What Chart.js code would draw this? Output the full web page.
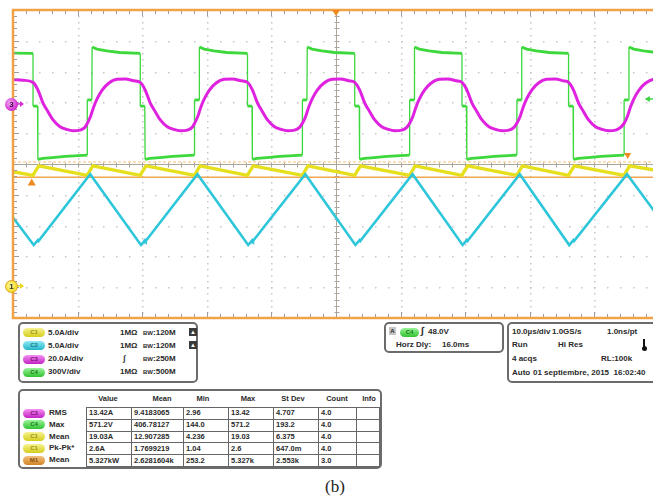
<!DOCTYPE html>
<html lang="es">
<head>
<meta charset="UTF-8">
<title>Osciloscopio (b)</title>
<script src="https://cdn.jsdelivr.net/npm/chart.js"></script>
<style>
  body { margin: 0; width: 653px; height: 498px; overflow: hidden; background: #fff; position: relative;
         font-family: 'Liberation Sans', Arial, sans-serif; }
  #scope { position: absolute; left: 0; top: 0; }
  .mark { position: absolute; width: 13px; height: 13px; border-radius: 50%; box-sizing: border-box;
          font: bold 8px/13px 'Liberation Sans', Arial, sans-serif; text-align: center; }
  .box { position: absolute; border: 2px solid #6c6c6c; border-radius: 5px; box-sizing: border-box; background: #fff;
         font: bold 8px 'Liberation Sans', Arial, sans-serif; color: #2a2a2a; }
  .t { position: absolute; white-space: nowrap; line-height: 10px; }
  .pill { position: absolute; width: 22px; height: 9px; border-radius: 5px; text-align: center;
          font: bold 6px/9px 'Liberation Sans', Arial, sans-serif; }
  .c1 { background: linear-gradient(#f6f290, #d6ce1c); color: #9a9410; }
  .c2 { background: linear-gradient(#90ecf6, #22b4c8); color: #167c8c; }
  .c3 { background: linear-gradient(#f690f6, #c222c2); color: #7c107c; }
  .c4 { background: linear-gradient(#98f498, #32c232); color: #177c17; }
  .m1 { background: linear-gradient(#f4c080, #d08424); color: #84500e; }
  .sub { font-size: 6px; }
  .icon { position: absolute; width: 8px; height: 8px; background: #3a3a3a; color: #fff; font-size: 6px;
          line-height: 9px; text-align: center; }
  .therm { position: absolute; width: 2px; height: 8px; background: #111; }
  .therm::after { content: ''; position: absolute; left: -1.5px; top: 7px; width: 5px; height: 5px; border-radius: 50%; background: #111; }
  table { position: absolute; border-collapse: collapse; table-layout: fixed; }
  td { border: 1px solid #666; height: 10.8px; padding: 0 0 0 2px; font: bold 7.5px/10px 'Liberation Sans', Arial, sans-serif;
       color: #2a2a2a; white-space: nowrap; overflow: hidden; }
  .hd { position: absolute; width: 40px; text-align: center; font-size: 7.5px; line-height: 10px; }
  #cap { position: absolute; left: 325px; top: 477px; font: 17px 'Liberation Serif', 'DejaVu Serif', serif; color: #222; }
</style>
</head>
<body>
<canvas id="scope" width="672" height="322"></canvas>

<div class="mark" style="left:5px;top:98px;background:radial-gradient(circle at 40% 40%,#f6b4f6,#d636d6 60%,#b418b4);color:#4a004a;">3</div>
<div class="mark" style="left:5px;top:280px;background:radial-gradient(circle at 40% 40%,#fff8a0,#f0e030 65%);border:1px solid #e0a020;color:#333;line-height:11px;">1</div>

<div class="box" style="left:18px;top:322px;width:180px;height:61px;">
  <div class="pill c1" style="left:3px;top:4px;">C1</div>
  <div class="t" style="left:28px;top:4px;">5.0A/div</div>
  <div class="t" style="left:100px;top:4px;">1MΩ</div>
  <div class="t" style="left:123px;top:4px;"><span class="sub">B</span><span class="sub">W</span>:120M</div>
  <div class="icon" style="left:169px;top:4px;">▲</div>

  <div class="pill c2" style="left:3px;top:17px;">C2</div>
  <div class="t" style="left:28px;top:16.5px;">5.0A/div</div>
  <div class="t" style="left:100px;top:16.5px;">1MΩ</div>
  <div class="t" style="left:123px;top:16.5px;"><span class="sub">B</span><span class="sub">W</span>:120M</div>
  <div class="icon" style="left:169px;top:17px;">▲</div>

  <div class="pill c3" style="left:3px;top:30.5px;">C3</div>
  <div class="t" style="left:28px;top:30px;">20.0A/div</div>
  <div class="t" style="left:103px;top:30px;">∫</div>
  <div class="t" style="left:123px;top:30px;"><span class="sub">B</span><span class="sub">W</span>:250M</div>

  <div class="pill c4" style="left:3px;top:43.5px;">C4</div>
  <div class="t" style="left:28px;top:43px;">300V/div</div>
  <div class="t" style="left:100px;top:43px;">1MΩ</div>
  <div class="t" style="left:123px;top:43px;"><span class="sub">B</span><span class="sub">W</span>:500M</div>
</div>

<div class="box" style="left:384px;top:322px;width:120px;height:31px;">
  <div class="t" style="left:3px;top:3px;width:7px;height:8px;background:#c4c4c4;font-size:6px;line-height:8px;text-align:center;">A</div>
  <div class="pill c4" style="left:14px;top:3.5px;width:19px;">C4</div>
  <div class="t" style="left:35px;top:2px;font-size:10px;font-style:italic;">∫</div>
  <div class="t" style="left:42px;top:3px;">48.0V</div>
  <div class="t" style="left:10px;top:16px;">Horz Dly:</div>
  <div class="t" style="left:56px;top:16px;">16.0ms</div>
</div>

<div class="box" style="left:507px;top:322px;width:165px;height:61px;">
  <div class="t" style="left:3px;top:3px;">10.0µs/div</div>
  <div class="t" style="left:43px;top:3px;">1.0GS/s</div>
  <div class="t" style="left:98px;top:3px;">1.0ns/pt</div>
  <div class="t" style="left:3px;top:16px;">Run</div>
  <div class="t" style="left:49px;top:16px;">Hi Res</div>
  <div class="therm" style="left:134px;top:15px;"></div>
  <div class="t" style="left:3px;top:30px;">4 acqs</div>
  <div class="t" style="left:92px;top:30px;">RL:100k</div>
  <div class="t" style="left:3px;top:43.5px;">Auto</div>
  <div class="t" style="left:24px;top:43.5px;">01 septiembre, 2015&nbsp; 16:02:40</div>
</div>

<div class="box" style="left:18px;top:389px;width:364px;height:80px;">
  <div class="hd" style="left:68px;top:3px;">Value</div>
  <div class="hd" style="left:122px;top:3px;">Mean</div>
  <div class="hd" style="left:163px;top:3px;">Min</div>
  <div class="hd" style="left:208px;top:3px;">Max</div>
  <div class="hd" style="left:253px;top:3px;">St Dev</div>
  <div class="hd" style="left:297px;top:3px;">Count</div>
  <div class="hd" style="left:329px;top:3px;">Info</div>

  <div class="pill c3" style="left:3px;top:17.5px;">C3</div>
  <div class="t" style="left:29px;top:17px;">RMS</div>
  <div class="pill c4" style="left:3px;top:29.3px;">C4</div>
  <div class="t" style="left:29px;top:28.8px;">Max</div>
  <div class="pill c1" style="left:3px;top:41px;">C1</div>
  <div class="t" style="left:29px;top:40.5px;">Mean</div>
  <div class="pill c1" style="left:3px;top:52.8px;">C1</div>
  <div class="t" style="left:29px;top:52.3px;">Pk-Pk*</div>
  <div class="pill m1" style="left:3px;top:64.5px;">M1</div>
  <div class="t" style="left:29px;top:64px;">Mean</div>

  <table style="left:66px;top:16px;width:293px;">
    <colgroup><col style="width:45px"><col style="width:52px"><col style="width:45px"><col style="width:45px"><col style="width:45px"><col style="width:38px"><col style="width:23px"></colgroup>
    <tr><td>13.42A</td><td>9.4183065</td><td>2.96</td><td>13.42</td><td>4.707</td><td>4.0</td><td></td></tr>
    <tr><td>571.2V</td><td>406.78127</td><td>144.0</td><td>571.2</td><td>193.2</td><td>4.0</td><td></td></tr>
    <tr><td>19.03A</td><td>12.907285</td><td>4.236</td><td>19.03</td><td>6.375</td><td>4.0</td><td></td></tr>
    <tr><td>2.6A</td><td>1.7699219</td><td>1.04</td><td>2.6</td><td>647.0m</td><td>4.0</td><td></td></tr>
    <tr><td>5.327kW</td><td>2.6281604k</td><td>253.2</td><td>5.327k</td><td>2.553k</td><td>3.0</td><td></td></tr>
  </table>
</div>

<div id="cap">(b)</div>

<script>
  // time in µs (10 µs/div), level in screen divisions (centre = 0)
  const greenTime = [
    0, 3.1, 3.1, 3.8, 3.85, 4.6, 6.1, 8.1, 11.5, 11.5, 12.2, 12.25, 13.0, 14.5, 16.5,
    19.7, 19.7, 20.4, 20.45, 21.2, 22.7, 24.7, 28.1, 28.1, 28.8, 28.85, 29.6, 31.1, 33.1,
    36.3, 36.3, 37.0, 37.05, 37.8, 39.3, 41.3, 44.8, 44.8, 45.5, 45.55, 46.3, 47.8, 49.8,
    52.9, 52.9, 53.6, 53.65, 54.4, 55.9, 57.9, 61.4, 61.4, 62.1, 62.15, 62.9, 64.4, 66.4,
    69.5, 69.5, 70.2, 70.25, 71.0, 72.5, 74.5, 78.0, 78.0, 78.7, 78.75, 79.5, 81.0, 83.0,
    86.0, 86.0, 86.7, 86.75, 87.5, 89.0, 91.0, 94.6, 94.6, 95.3, 95.35, 96.1, 97.6, 99.6, 100
  ];
  const greenLevel = [
    3.60, 3.59, 1.88, 1.88, 0.15, 0.18, 0.21, 0.25, 0.29, 2.08, 2.08, 3.80, 3.73, 3.67, 3.62,
    3.59, 1.88, 1.88, 0.15, 0.18, 0.21, 0.25, 0.29, 2.08, 2.08, 3.80, 3.73, 3.67, 3.62,
    3.59, 1.88, 1.88, 0.15, 0.18, 0.21, 0.25, 0.29, 2.08, 2.08, 3.80, 3.73, 3.67, 3.62,
    3.59, 1.88, 1.88, 0.15, 0.18, 0.21, 0.25, 0.29, 2.08, 2.08, 3.80, 3.73, 3.67, 3.62,
    3.59, 1.88, 1.88, 0.15, 0.18, 0.21, 0.25, 0.29, 2.08, 2.08, 3.80, 3.73, 3.67, 3.62,
    3.59, 1.88, 1.88, 0.15, 0.18, 0.21, 0.25, 0.29, 2.08, 2.08, 3.80, 3.73, 3.67, 3.62, 3.62
  ];

  const magentaTime = [
    0, 1.5,
    3.1, 3.87, 4.65, 5.42, 6.2, 7.28, 8.21, 9.29, 10.38, 11.15, 11.5, 12.0, 12.5, 13.05, 13.8, 14.8, 16.1, 17.4, 18.7,
    19.7, 20.47, 21.25, 22.02, 22.8, 23.88, 24.81, 25.89, 26.98, 27.75, 28.1, 28.6, 29.1, 29.65, 30.4, 31.4, 32.7, 34.0, 35.3,
    36.3, 37.07, 37.85, 38.62, 39.4, 40.48, 41.41, 42.49, 43.58, 44.35, 44.8, 45.3, 45.8, 46.35, 47.1, 48.1, 49.4, 50.7, 52.0,
    52.9, 53.67, 54.45, 55.22, 56.0, 57.08, 58.01, 59.09, 60.18, 60.95, 61.4, 61.9, 62.4, 62.95, 63.7, 64.7, 66.0, 67.3, 68.6,
    69.5, 70.27, 71.05, 71.82, 72.6, 73.68, 74.61, 75.69, 76.78, 77.55, 78.0, 78.5, 79.0, 79.55, 80.3, 81.3, 82.6, 83.9, 85.2,
    86.0, 86.77, 87.55, 88.32, 89.1, 90.18, 91.11, 92.19, 93.28, 94.05, 94.6, 95.1, 95.6, 96.15, 96.9, 97.9, 99.2, 100
  ];
  const magentaLevel = [
    2.74, 2.72,
    2.65, 2.40, 1.98, 1.70, 1.43, 1.21, 1.13, 1.08, 1.10, 1.19, 1.32, 1.54, 1.86, 2.13, 2.40, 2.62, 2.75, 2.76, 2.70,
    2.65, 2.40, 1.98, 1.70, 1.43, 1.21, 1.13, 1.08, 1.10, 1.19, 1.32, 1.54, 1.86, 2.13, 2.40, 2.62, 2.75, 2.76, 2.70,
    2.65, 2.40, 1.98, 1.70, 1.43, 1.21, 1.13, 1.08, 1.10, 1.19, 1.32, 1.54, 1.86, 2.13, 2.40, 2.62, 2.75, 2.76, 2.70,
    2.65, 2.40, 1.98, 1.70, 1.43, 1.21, 1.13, 1.08, 1.10, 1.19, 1.32, 1.54, 1.86, 2.13, 2.40, 2.62, 2.75, 2.76, 2.70,
    2.65, 2.40, 1.98, 1.70, 1.43, 1.21, 1.13, 1.08, 1.10, 1.19, 1.32, 1.54, 1.86, 2.13, 2.40, 2.62, 2.75, 2.76, 2.70,
    2.65, 2.40, 1.98, 1.70, 1.43, 1.21, 1.13, 1.08, 1.10, 1.19, 1.32, 1.54, 1.86, 2.13, 2.40, 2.62, 2.75, 2.76
  ];

  const cyanTime = [
    0, 3.2, 3.85, 3.95, 11.95, 19.8, 20.45, 20.55, 28.55, 36.4, 37.05, 37.15, 45.25,
    53.0, 53.65, 53.75, 61.85, 69.6, 70.25, 70.35, 78.45, 86.1, 86.75, 86.85, 95.05, 100
  ];
  const cyanLevel = [
    -1.74, -2.63, -2.47, -2.50, -0.33, -2.63, -2.47, -2.50, -0.33, -2.63, -2.47, -2.50, -0.33,
    -2.63, -2.47, -2.50, -0.33, -2.63, -2.47, -2.50, -0.33, -2.63, -2.47, -2.50, -0.33, -1.74
  ];

  const yellowTime = [
    0, 3.1, 3.5, 4.0, 11.5, 11.9, 12.35, 19.7, 20.1, 20.6, 28.1, 28.5, 28.95,
    36.3, 36.7, 37.2, 44.8, 45.2, 45.65, 52.9, 53.3, 53.8, 61.4, 61.8, 62.25,
    69.5, 69.9, 70.4, 78.0, 78.4, 78.85, 86.0, 86.4, 86.9, 94.6, 95.0, 95.45, 100
  ];
  const yellowLevel = [
    -0.25, -0.37, -0.22, -0.06, -0.37, -0.22, -0.06, -0.37, -0.22, -0.06, -0.37, -0.22, -0.06,
    -0.37, -0.22, -0.06, -0.37, -0.22, -0.06, -0.37, -0.22, -0.06, -0.37, -0.22, -0.06,
    -0.37, -0.22, -0.06, -0.37, -0.22, -0.06, -0.37, -0.22, -0.06, -0.37, -0.22, -0.06, -0.22
  ];

  const cursorLevels = [0.065, -0.43];

  const pts = (ts, vs) => ts.map((t, i) => ({ x: t, y: vs[i] }));

  const scopeScreen = {
    id: 'scopeScreen',
    beforeDatasetsDraw(chart) {
      const { ctx, chartArea: a, scales: { x, y } } = chart;
      ctx.save();
      // dotted graticule
      ctx.fillStyle = '#c6c6c6';
      for (let i = 1; i < 10; i++) {
        if (i === 5) continue;
        const px = Math.round(x.getPixelForValue(i * 10));
        for (let j = 1; j < 50; j++) ctx.fillRect(px, Math.round(y.getPixelForValue(-5 + j * 0.2)), 1.5, 1.5);
      }
      for (let j = 1; j < 10; j++) {
        if (j === 5) continue;
        const py = Math.round(y.getPixelForValue(-5 + j));
        for (let i = 1; i < 50; i++) ctx.fillRect(Math.round(x.getPixelForValue(i * 2)), py, 1.5, 1.5);
      }
      // centre cross with ticks
      const cx = Math.round(x.getPixelForValue(50)) + 0.5, cy = Math.round(y.getPixelForValue(0)) + 0.5;
      ctx.strokeStyle = '#aca59c';
      ctx.lineWidth = 1;
      ctx.beginPath();
      ctx.moveTo(a.left, cy); ctx.lineTo(a.right, cy);
      ctx.moveTo(cx, a.top); ctx.lineTo(cx, a.bottom);
      for (let j = 1; j < 50; j++) {
        const py = Math.round(y.getPixelForValue(-5 + j * 0.2)) + 0.5;
        ctx.moveTo(cx - 2, py); ctx.lineTo(cx + 3, py);
      }
      for (let i = 1; i < 50; i++) {
        const px = Math.round(x.getPixelForValue(i * 2)) + 0.5;
        ctx.moveTo(px, cy - 2); ctx.lineTo(px, cy + 3);
      }
      ctx.stroke();
      // cursors
      ctx.strokeStyle = '#f7bd75';
      ctx.setLineDash([3, 2]);
      ctx.beginPath();
      const c0 = y.getPixelForValue(cursorLevels[0]);
      ctx.moveTo(a.left, c0); ctx.lineTo(a.right, c0);
      ctx.stroke();
      ctx.setLineDash([]);
      ctx.strokeStyle = '#f2a650';
      ctx.lineWidth = 1.5;
      ctx.beginPath();
      const c1 = y.getPixelForValue(cursorLevels[1]);
      ctx.moveTo(a.left, c1); ctx.lineTo(a.right, c1);
      ctx.stroke();
      ctx.restore();
    },
    afterDatasetsDraw(chart) {
      const { ctx, chartArea: a, scales: { x, y } } = chart;
      ctx.save();
      // frame ticks
      ctx.strokeStyle = '#9c9c9c';
      ctx.lineWidth = 1;
      ctx.beginPath();
      for (let j = 1; j < 50; j++) {
        const py = Math.round(y.getPixelForValue(-5 + j * 0.2)) + 0.5;
        ctx.moveTo(a.left, py); ctx.lineTo(a.left + (j % 5 === 0 ? 6 : 4), py);
      }
      for (let i = 1; i < 50; i++) {
        const px = Math.round(x.getPixelForValue(i * 2)) + 0.5;
        const len = i % 5 === 0 ? 6 : 4;
        ctx.moveTo(px, a.top); ctx.lineTo(px, a.top + len);
        ctx.moveTo(px, a.bottom); ctx.lineTo(px, a.bottom - len);
      }
      ctx.stroke();
      // orange frame
      ctx.strokeStyle = '#f2a246';
      ctx.lineWidth = 2.5;
      ctx.beginPath();
      ctx.moveTo(a.right + 10, a.top);
      ctx.lineTo(a.left, a.top);
      ctx.lineTo(a.left, a.bottom);
      ctx.lineTo(a.right + 10, a.bottom);
      ctx.stroke();
      // markers
      const tri = (px, py, w, h, color) => {
        ctx.fillStyle = color;
        ctx.beginPath();
        ctx.moveTo(px - w / 2, py); ctx.lineTo(px + w / 2, py); ctx.lineTo(px, py + h);
        ctx.closePath(); ctx.fill();
      };
      tri(x.getPixelForValue(50), a.top, 8, 6, '#f08a20');
      tri(x.getPixelForValue(95.15), y.getPixelForValue(0.36), 7, 6, '#f08a20');
      tri(x.getPixelForValue(2.9), y.getPixelForValue(-0.70), 8, -7, '#f08a20');
      // green ground arrow (right edge)
      const gy = y.getPixelForValue(2.11), gx = x.getPixelForValue(97.8);
      ctx.fillStyle = '#3fd33f';
      ctx.beginPath();
      ctx.moveTo(gx, gy); ctx.lineTo(gx + 5, gy - 3); ctx.lineTo(gx + 5, gy + 3); ctx.closePath(); ctx.fill();
      ctx.fillRect(gx + 4, gy - 0.75, 6, 1.5);
      // channel arrows on the left
      const arrow = (py, color) => {
        ctx.fillStyle = color;
        ctx.fillRect(a.left + 4, py - 0.75, 5, 1.5);
        ctx.beginPath();
        ctx.moveTo(a.left + 11, py); ctx.lineTo(a.left + 7, py - 3); ctx.lineTo(a.left + 7, py + 3);
        ctx.closePath(); ctx.fill();
      };
      arrow(y.getPixelForValue(1.95), '#d62ad6');
      arrow(y.getPixelForValue(-3.96), '#e8d820');
      ctx.restore();
    }
  };

  new Chart(document.getElementById('scope'), {
    type: 'line',
    data: {
      datasets: [
        { label: 'C3', data: pts(magentaTime, magentaLevel), borderColor: '#df22df', borderWidth: 3,
          cubicInterpolationMode: 'monotone', order: 0 },
        { label: 'C2', data: pts(cyanTime, cyanLevel), borderColor: '#2ec6da', borderWidth: 2.6, order: 1 },
        { label: 'C1', data: pts(yellowTime, yellowLevel), borderColor: '#e6df1e', borderWidth: 3.4, order: 2 },
        { label: 'C4', data: pts(greenTime, greenLevel), borderColor: '#3cd83c', borderWidth: 2.8, order: 3,
          segment: { borderWidth: c => Math.abs(c.p1.parsed.x - c.p0.parsed.x) < 0.1 ? 1.3 : 2.8 } }
      ]
    },
    options: {
      responsive: false,
      devicePixelRatio: 1,
      animation: false,
      elements: { point: { radius: 0 }, line: { tension: 0, fill: false } },
      layout: { padding: { left: 13, top: 10, right: 13, bottom: 4 } },
      scales: {
        x: { type: 'linear', min: 0, max: 100, display: false },
        y: { min: -5, max: 5, display: false }
      },
      plugins: { legend: { display: false }, tooltip: { enabled: false } }
    },
    plugins: [scopeScreen]
  });
</script>
</body>
</html>
